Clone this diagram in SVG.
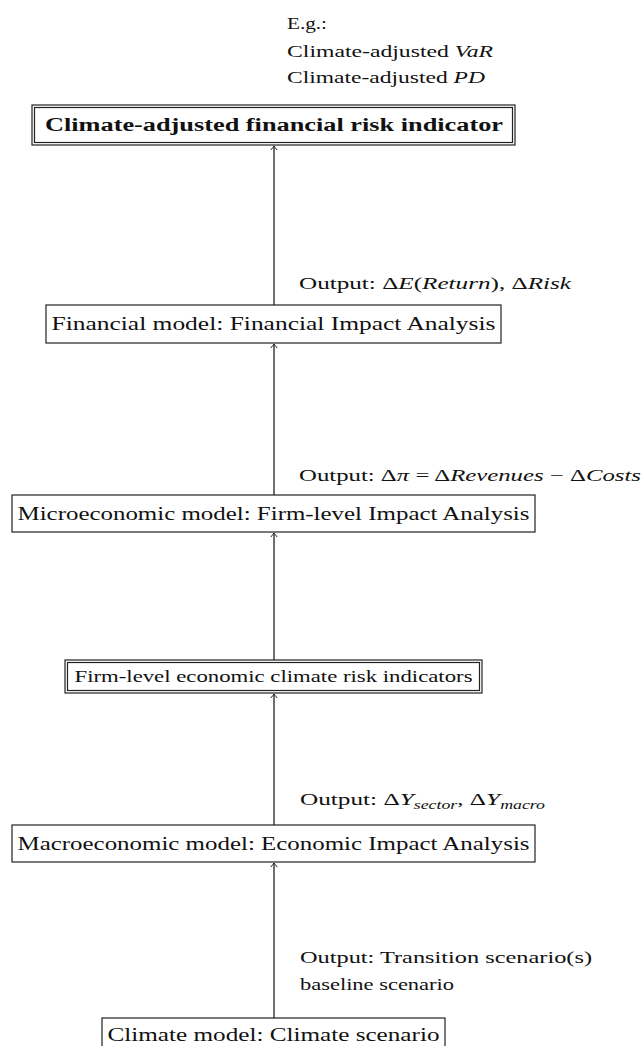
<svg xmlns="http://www.w3.org/2000/svg" width="644" height="1046" viewBox="0 0 644 1046">
<style>
  text { font-family: "Liberation Serif", "Times New Roman", serif; fill: #111; }
  .lbl { font-size: 18.5px; }
  .big { font-size: 18.5px; font-weight: bold; }
  .out { font-size: 17px; }
  .sm { font-size: 17px; }
  .it { font-style: italic; }
  .sub { font-size: 12px; font-style: italic; }
  .box { fill: #fff; stroke: #222; stroke-width: 1.2; }
  .conn { stroke: #222; stroke-width: 1.3; fill: none; }
</style>
<defs>
  <marker id="arr" viewBox="-5 -4 6 8" markerWidth="6" markerHeight="8" refX="0" refY="0" orient="auto" markerUnits="userSpaceOnUse">
    <path d="M-4,-3.2 Q-1.2,-0.8 0,0 Q-1.2,0.8 -4,3.2" fill="none" stroke="#222" stroke-width="1"/>
  </marker>
</defs>
<rect width="644" height="1046" fill="#fff"/>

<g id="connectors">
  <line class="conn" x1="274" y1="305" x2="274" y2="146" marker-end="url(#arr)"/>
  <line class="conn" x1="274" y1="495" x2="274" y2="344" marker-end="url(#arr)"/>
  <line class="conn" x1="274" y1="660" x2="274" y2="533" marker-end="url(#arr)"/>
  <line class="conn" x1="274" y1="825" x2="274" y2="694" marker-end="url(#arr)"/>
  <line class="conn" x1="274" y1="1018" x2="274" y2="863" marker-end="url(#arr)"/>
</g>

<g id="eg-note">
  <text class="out" x="287" y="29" textLength="40" lengthAdjust="spacingAndGlyphs">E.g.:</text>
  <text class="out" x="287" y="57" textLength="206" lengthAdjust="spacingAndGlyphs">Climate-adjusted <tspan class="it">VaR</tspan></text>
  <text class="out" x="287" y="83" textLength="198" lengthAdjust="spacingAndGlyphs">Climate-adjusted <tspan class="it">PD</tspan></text>
</g>

<g id="risk-indicator">
  <rect class="box" x="32" y="105" width="483" height="40"/>
  <rect class="box" x="34.5" y="107.5" width="478" height="35"/>
  <text class="big" x="274" y="131" text-anchor="middle" textLength="458" lengthAdjust="spacingAndGlyphs">Climate-adjusted financial risk indicator</text>
</g>

<g id="financial-model">
  <rect class="box" x="46" y="305" width="455" height="38"/>
  <text class="lbl" x="273.5" y="330" text-anchor="middle" textLength="444" lengthAdjust="spacingAndGlyphs">Financial model: Financial Impact Analysis</text>
</g>

<g id="micro-model">
  <rect class="box" x="12" y="495" width="523" height="37"/>
  <text class="lbl" x="273.5" y="520" text-anchor="middle" textLength="512" lengthAdjust="spacingAndGlyphs">Microeconomic model: Firm-level Impact Analysis</text>
</g>

<g id="firm-indicators">
  <rect class="box" x="65" y="660" width="417" height="33"/>
  <rect class="box" x="67.5" y="662.5" width="412" height="28"/>
  <text class="sm" x="273.5" y="682" text-anchor="middle" textLength="398" lengthAdjust="spacingAndGlyphs">Firm-level economic climate risk indicators</text>
</g>

<g id="macro-model">
  <rect class="box" x="12" y="825" width="523" height="37"/>
  <text class="lbl" x="273.5" y="850" text-anchor="middle" textLength="512" lengthAdjust="spacingAndGlyphs">Macroeconomic model: Economic Impact Analysis</text>
</g>

<g id="climate-model">
  <rect class="box" x="102" y="1018" width="343" height="40"/>
  <text class="lbl" x="273.5" y="1041" text-anchor="middle" textLength="332" lengthAdjust="spacingAndGlyphs">Climate model: Climate scenario</text>
</g>

<g id="output-labels">
  <text class="out" x="299" y="289" textLength="272" lengthAdjust="spacingAndGlyphs">Output: Δ<tspan class="it">E</tspan>(<tspan class="it">Return</tspan>), Δ<tspan class="it">Risk</tspan></text>
  <text class="out" x="299" y="481" textLength="342" lengthAdjust="spacingAndGlyphs">Output: Δ<tspan class="it">π</tspan> = Δ<tspan class="it">Revenues</tspan> − Δ<tspan class="it">Costs</tspan></text>
  <text class="out" x="300" y="805" textLength="245" lengthAdjust="spacingAndGlyphs">Output: Δ<tspan class="it">Y</tspan><tspan class="sub" dy="4">sector</tspan><tspan dy="-4">, Δ</tspan><tspan class="it">Y</tspan><tspan class="sub" dy="4">macro</tspan></text>
  <text class="out" x="300" y="963" textLength="292" lengthAdjust="spacingAndGlyphs">Output: Transition scenario(s)</text>
  <text class="out" x="300" y="990" textLength="154" lengthAdjust="spacingAndGlyphs">baseline scenario</text>
</g>
</svg>
